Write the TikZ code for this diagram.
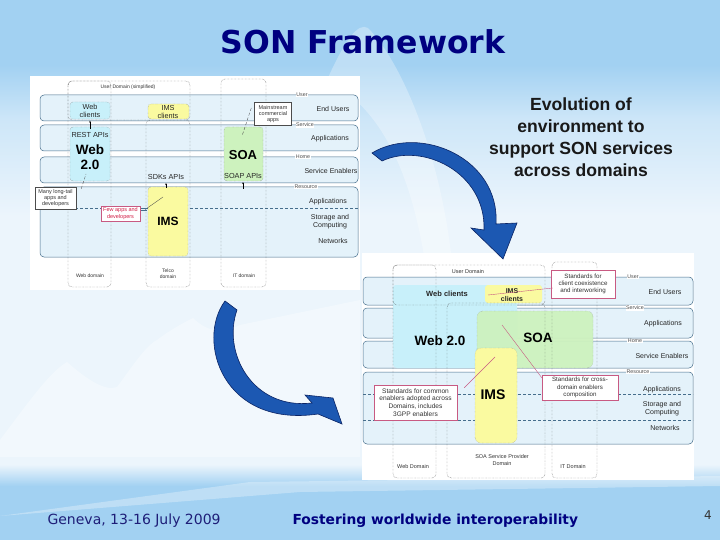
\documentclass[tikz,border=0pt]{standalone}
\usepackage{fontspec}
\setmainfont{Liberation Sans}
\newfontfamily\verd{DejaVu Sans}
\usetikzlibrary{arrows.meta}
\definecolor{bgb}{RGB}{162,209,242}
\definecolor{bgm}{RGB}{205,230,248}
\definecolor{bgl}{RGB}{236,245,252}
\definecolor{navy}{RGB}{0,0,128}
\definecolor{footc}{RGB}{30,30,120}
\definecolor{arrowc}{RGB}{28,88,178}
\definecolor{arrowd}{RGB}{10,35,100}
\definecolor{bandf}{RGB}{228,242,250}
\definecolor{bandd}{RGB}{70,110,140}
\definecolor{webc}{RGB}{200,240,250}
\definecolor{imsc}{RGB}{250,250,160}
\definecolor{soac}{RGB}{205,242,190}
\definecolor{pinkd}{RGB}{200,90,130}
\definecolor{redt}{RGB}{210,30,70}
\pgfdeclareverticalshading{slidebg}{100bp}{color(0bp)=(bgb); color(25bp)=(bgb); color(30bp)=(bgb); color(32bp)=(bgl); color(55bp)=(bgl); color(64bp)=(bgm); color(69bp)=(bgb); color(75bp)=(bgb); color(100bp)=(bgb)}
\tikzset{
  band/.style={draw=bandd, fill=bandf, rounded corners=4pt, line width=0.5pt},
  bandline/.style={draw=bandd, densely dashed, line width=0.4pt},
  dom/.style={draw=black!75, densely dotted, rounded corners=4pt, line width=0.4pt},
  webbox/.style={fill=webc, draw=black!60, densely dotted, rounded corners=3pt, line width=0.3pt},
  imsbox/.style={fill=imsc, draw=black!60, densely dotted, rounded corners=3pt, line width=0.3pt},
  soabox/.style={fill=soac, draw=black!60, densely dotted, rounded corners=3pt, line width=0.3pt},
  callout/.style={draw=black!70, fill=white, inner sep=0pt, align=center, line width=0.4pt},
  pcallout/.style={draw=pinkd, fill=white, inner sep=0pt, align=center, line width=0.4pt},
  lyr/.style={fill=white, inner sep=0.6pt, font=\fontsize{5.3}{6}\selectfont, text=black!70},
  fa/.style={font=\fontsize{5}{5.8}\selectfont, align=center, text=black!80},
  fd/.style={font=\fontsize{5.5}{6.3}\selectfont, align=center, text=black!80},
  fe/.style={font=\fontsize{6.2}{7.2}\selectfont, align=center, text=black!80},
  fb/.style={font=\fontsize{7.3}{8}\selectfont, align=center, text=black!85},
  fc/.style={font=\fontsize{7}{8}\selectfont, align=center, text=black!85},
  big/.style={font=\bfseries\fontsize{13.5}{15.5}\selectfont, align=center},
  bigger/.style={font=\bfseries\fontsize{13.5}{15}\selectfont, align=center},
  curvedarrow/.style={fill=arrowc, draw=arrowd, line width=0.6pt, line join=miter},
  smallarr/.style={-{Stealth[length=2pt,width=1.6pt]}, line width=0.35pt},
  cline/.style={densely dashed, line width=0.35pt, draw=black!70},
  pline/.style={line width=0.4pt, draw=pinkd}
}
\begin{document}
\begin{tikzpicture}[x=1pt,y=-1pt]
\useasboundingbox (0,0) rectangle (720,540);
% background
\shade[shading=slidebg] (0,0) rectangle (720,540);
\fill[white,opacity=0.35] (0,457) -- (0,440) .. controls (30,400) and (50,372) .. (67,362) .. controls (85,378) and (105,392) .. (117,387) .. controls (130,370) and (145,346) .. (157,340) .. controls (170,330) and (185,322) .. (193,318) .. controls (205,330) and (220,335) .. (240,325) -- (360,300) -- (360,457) -- cycle;
\fill[white,opacity=0.3] (327,80) .. controls (345,40) and (358,22) .. (368,28) .. controls (400,60) and (440,150) .. (452,262) -- (425,262) .. controls (412,180) and (385,110) .. (327,80) -- cycle;
\fill[white,opacity=0.3] (0,516) -- (250,482) -- (720,476) -- (720,486) -- (300,492) -- cycle;

% title
\node[font=\verd\bfseries\fontsize{31.5}{36}\selectfont, text=navy] (title) at (363,42) {SON Framework};

% ================= diagram 1 =================
\fill[white] (30,76) rectangle (360,290);
\draw[band] (40,95) rectangle (358,121);
\draw[band] (40,125) rectangle (358,151);
\draw[band] (40,157) rectangle (358,183);
\draw[band] (40,187) rectangle (358,257);
\draw[bandline] (40,208) -- (358,208);
% coloured areas
\draw[webbox] (70,102) rectangle (110,119);
\draw[webbox] (70,127) rectangle (110,181);
\draw[imsbox] (148,104) rectangle (189,119);
\draw[imsbox] (148,187) rectangle (188,256);
\draw[soabox] (224,127) rectangle (263,181);
% domains
\draw[dom] (68,81) rectangle (190,120);
\draw[dom] (68,81) rectangle (111,287);
\draw[dom] (146,120) rectangle (190,287);
\draw[dom] (221,79) rectangle (266,287);
\node[fa] (ud1) at (128,87) {User Domain (simplified)};
\node[fa] (wd1) at (90,276) {Web domain};
\node[fa] (td1) at (168,274) {Telco\\domain};
\node[fa] (id1) at (244,276) {IT domain};
% texts in boxes
\node[fb] (wc1) at (90,110.5) {Web\\clients};
\node[fb] (rest1) at (90,135) {REST APIs};
\node[big] (web1) at (90,157) {Web\\2.0};
\node[fb] (imsc1) at (168,111.5) {IMS\\clients};
\node[fb] (sdk1) at (166,177) {SDKs APIs};
\node[big, font=\bfseries\fontsize{12}{14}\selectfont] (ims1) at (168,221) {IMS};
\node[big, font=\bfseries\fontsize{13}{15}\selectfont] (soa1) at (243,155) {SOA};
\node[fb] (soap1) at (243,176) {SOAP APIs};
\coordinate (imstop1) at (166,188);
\coordinate (soabot1) at (243,189);
\draw[smallarr] (rest1.north) -- (wc1.south);
\draw[smallarr] (imstop1) -- (sdk1.south);
\draw[smallarr] (soabot1) -- (soap1.south);
% callouts
\node[callout, minimum width=37, minimum height=23, fd] (ms1) at (273,114) {Mainstream\\commercial\\apps};
\node[callout, minimum width=41, minimum height=22, fd] (ml1) at (55.5,198) {Many long-tail\\apps and\\developers};
\node[pcallout, minimum width=39, minimum height=15, fd, text=redt] (fw1) at (120.5,213.5) {Few apps and\\developers};
\coordinate (soain1) at (242,136);
\coordinate (webin1) at (86,174);
\coordinate (imsin1) at (163,197);
\draw[cline] (ms1.west) ++(-3,-6) -- (soain1);
\draw[cline] (ml1.north east) ++(5,2) -- (webin1);
\draw[line width=0.35pt, draw=black!70] (fw1.east) ++(5,-4) -- (imsin1);
\draw[line width=0.3pt, draw=bandd] (fw1.east) ++(1,-5) -- ++(6,0) ++(-6,1.5) -- ++(6,0);
% layer labels
\node[lyr] (l1u) at (302,95) {User};
\node[lyr] (l1s) at (305,125) {Service};
\node[lyr] (l1h) at (303,157) {Home};
\node[lyr] (l1r) at (306,187) {Resource};
\node[fc] (e1a) at (333,109) {End Users};
\node[fc] (e1b) at (330,139) {Applications};
\node[fc] (e1c) at (331,171) {Service Enablers};
\node[fc] (e1d) at (328,202) {Applications};
\node[fc] (e1e) at (330,221.5) {Storage and\\Computing};
\node[fc] (e1f) at (333,241) {Networks};

% ================= diagram 2 =================
\fill[white] (362,253) rectangle (694,480);
\draw[band] (363,277) rectangle (693,305);
\draw[band] (363,308) rectangle (693,338);
\draw[band] (363,341) rectangle (693,368);
\draw[band] (363,372) rectangle (693,444);
\draw[bandline] (363,394) -- (693,394);
\draw[bandline] (363,420) -- (693,420);
% coloured areas
\fill[webc, rounded corners=4pt] (393,285) rectangle (517,368);
\fill[webc, rounded corners=3pt] (393,285) rectangle (542,303);
\fill[imsc, rounded corners=3pt] (485,285) rectangle (542,303);
\fill[soac, rounded corners=6pt, opacity=0.95] (477,311) rectangle (593,368);
\draw[black!50, densely dotted, line width=0.3pt, rounded corners=6pt] (477,311) rectangle (593,368);
\fill[imsc, rounded corners=6pt] (475,348) rectangle (517,443);
\draw[black!50, densely dotted, line width=0.3pt, rounded corners=6pt] (475,348) rectangle (517,443);
% domains
\draw[dom] (393,265) rectangle (545,305);
\draw[dom] (393,265) rectangle (436,478);
\draw[dom] (447,303) rectangle (545,478);
\draw[dom] (552,262) rectangle (597,478);
\node[fd] (ud2) at (468,272) {User Domain};
\node[fd] (wd2) at (413,467) {Web Domain};
\node[fd] (sd2) at (502,460) {SOA Service Provider\\Domain};
\node[fd] (id2) at (573,467) {IT Domain};
% texts
\node[font=\bfseries\fontsize{7.5}{8.5}\selectfont, text=black!85] (wc2) at (447,294) {Web clients};
\node[fb, font=\bfseries\fontsize{7}{8}\selectfont] (imsc2) at (512,295) {IMS\\clients};
\node[bigger] (web2) at (440,341) {Web 2.0};
\node[bigger] (soa2) at (538,338) {SOA};
\node[bigger, font=\bfseries\fontsize{14}{16}\selectfont] (ims2) at (493,395) {IMS};
% callouts
\node[pcallout, minimum width=64, minimum height=28, fe] (sc2) at (583,284) {Standards for\\client coexistence\\and interworking};
\node[pcallout, minimum width=76, minimum height=25, fe] (sx2) at (580,387.5) {Standards for cross-\\domain enablers\\composition};
\node[pcallout, minimum width=83, minimum height=35, fe, font=\fontsize{6.6}{7.8}\selectfont] (sm2) at (415.5,402.5) {Standards for common\\enablers adopted across\\Domains, includes\\3GPP enablers};
\coordinate (imsin2) at (488,295);
\coordinate (soain2) at (502,325);
\coordinate (imsin2b) at (495,357);
\draw[pline] (sc2.west) ++(2,4) -- (imsin2);
\draw[pline] (sx2.north west) ++(0,3) -- (soain2);
\draw[pline] (sm2.north east) ++(7,3) -- (imsin2b);
% layer labels
\node[lyr] (l2u) at (633,277) {User};
\node[lyr] (l2s) at (635,308) {Service};
\node[lyr] (l2h) at (635,341) {Home};
\node[lyr] (l2r) at (638,372) {Resource};
\node[fc] (e2a) at (665,292) {End Users};
\node[fc] (e2b) at (663,324) {Applications};
\node[fc] (e2c) at (662,356) {Service Enablers};
\node[fc] (e2d) at (662,390) {Applications};
\node[fc] (e2e) at (662,409) {Storage and\\Computing};
\node[fc] (e2f) at (665,428) {Networks};

% ================= text and arrows =================
\node[font=\bfseries\fontsize{17.6}{22}\selectfont, align=center, text=black!90] (evo) at (581,137) {Evolution of\\environment to\\support SON services\\across domains};

\draw[curvedarrow] (372,153) .. controls (420,124) and (500,158) .. (496,224)
  -- (517,223) -- (503,259) -- (471,228) -- (484,230)
  .. controls (486,172) and (422,142) .. (382,161) -- cycle;
\draw[curvedarrow] (225,301) .. controls (196,340) and (222,428) .. (318,414)
  -- (342,424) -- (333,398) -- (305,395) -- (312,403)
  .. controls (252,410) and (222,352) .. (237,310) -- cycle;

% footer
\node[font=\verd\fontsize{14}{16}\selectfont, text=footc, anchor=west] (geneva) at (44,521) {Geneva, 13-16 July 2009};
\node[font=\verd\bfseries\fontsize{13.8}{16}\selectfont, text=navy, anchor=west] (foster) at (289,521) {Fostering worldwide interoperability};
\node[font=\verd\fontsize{12}{14}\selectfont, text=black!80] (pnum) at (708,515) {4};
\end{tikzpicture}
\end{document}
